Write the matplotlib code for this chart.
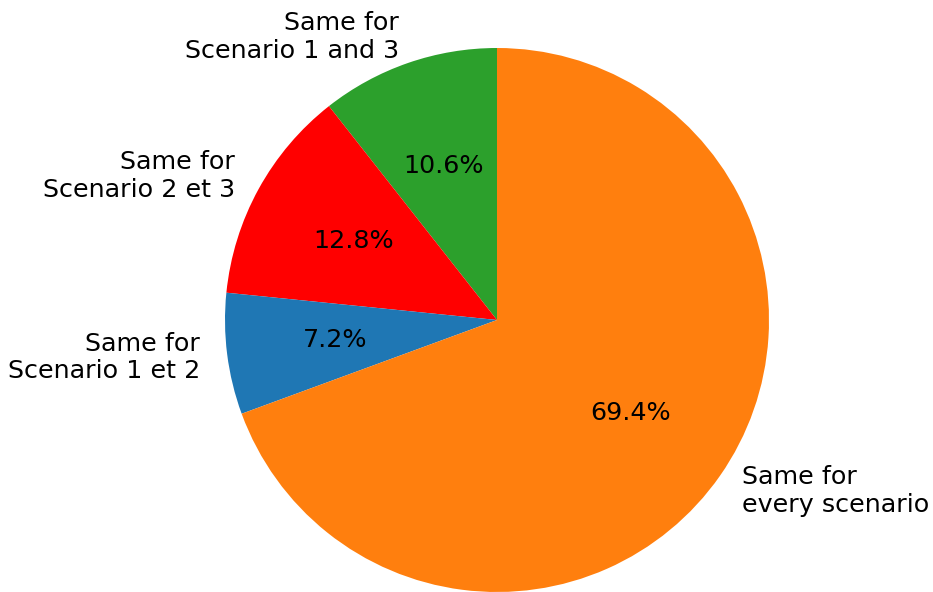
import matplotlib
matplotlib.use("Agg")
import matplotlib.pyplot as plt

labels = ["Same for\nScenario 1 and 3", "Same for\nScenario 2 et 3",
          "Same for\nScenario 1 et 2", "Same for\nevery scenario"]
shares = [10.6, 12.8, 7.2, 69.4]
colors = ["#2ca02c", "red", "#1f77b4", "#ff7f0e"]

fig = plt.figure(figsize=(9.33, 5.92), dpi=100)
ax = fig.add_axes([0, 0, 1, 1])
ax.pie(shares, labels=labels, colors=colors, autopct="%1.1f%%",
       startangle=90, textprops={"fontsize": 18.3})

# place the unit circle: centre at (497, 320) px, radius 272 px
cx, cy, r = 497, 320, 272
W, H = 933, 592
ax.set_xlim(-cx / r, (W - cx) / r)
ax.set_ylim(-(H - cy) / r, cy / r)
ax.set_aspect("equal")
ax.axis("off")
fig.savefig("out.png", dpi=100)
